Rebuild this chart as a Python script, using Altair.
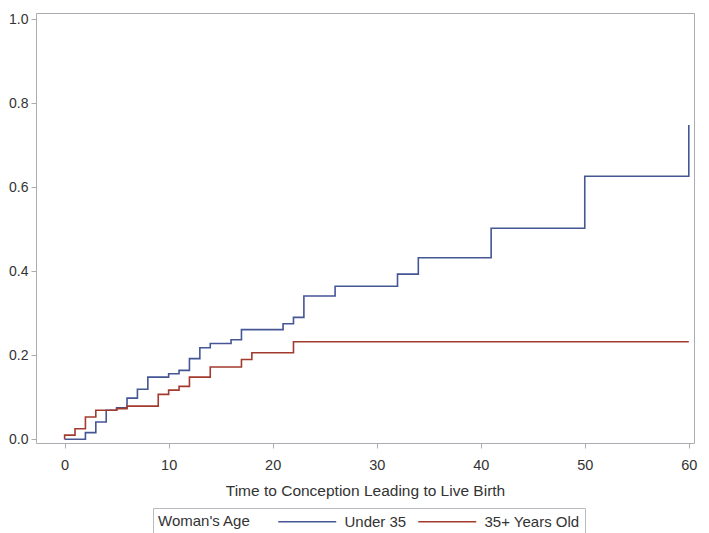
import altair as alt
import pandas as pd

# Cumulative incidence (step functions)
under35_t = [0, 2, 3, 4, 5, 6, 7, 8, 10, 11, 12, 13, 14, 16, 17, 21, 22, 23, 26, 32, 34, 41, 50, 60]
under35_v = [0.0, 0.016, 0.041, 0.069, 0.075, 0.098, 0.119, 0.148, 0.156, 0.164, 0.192, 0.218,
             0.228, 0.237, 0.261, 0.275, 0.290, 0.341, 0.364, 0.393, 0.432, 0.502, 0.626, 0.748]

over35_t = [0, 0, 1, 2, 3, 5, 6, 9, 10, 11, 12, 14, 17, 18, 22, 60]
over35_v = [0.0, 0.010, 0.025, 0.053, 0.069, 0.073, 0.079, 0.107, 0.117, 0.126, 0.148, 0.172,
            0.190, 0.206, 0.232, 0.232]

groups = ["Under 35", "35+ Years Old"]
colors = ["#445694", "#A23A2E"]
x_ticks = [0, 10, 20, 30, 40, 50, 60]
y_ticks = [0.0, 0.2, 0.4, 0.6, 0.8, 1.0]

rows = []
for i, (t, v) in enumerate(zip(under35_t, under35_v)):
    rows.append({"t": t, "v": v, "g": groups[0], "o": i})
for i, (t, v) in enumerate(zip(over35_t, over35_v)):
    rows.append({"t": t, "v": v, "g": groups[1], "o": i})
df = pd.DataFrame(rows)

FONT = "Liberation Sans"
GRAY = "#a9adb2"
TEXT = "#333333"

chart = (
    alt.Chart(df)
    .mark_line(interpolate="step-after", strokeWidth=1.6)
    .encode(
        x=alt.X(
            "t:Q",
            scale=alt.Scale(domain=[-2.75, 60.5], nice=False, zero=False),
            axis=alt.Axis(
                values=x_ticks,
                title="Time to Conception Leading to Live Birth",
                grid=False,
                domain=False,
                tickColor=GRAY,
                tickSize=5,
                labelFontSize=14.5,
                labelPadding=10,
                labelColor=TEXT,
                titleFontSize=15.5,
                titleFontWeight="normal",
                titleColor=TEXT,
                titlePadding=12,
                labelFont=FONT,
                titleFont=FONT,
            ),
        ),
        y=alt.Y(
            "v:Q",
            scale=alt.Scale(domain=[-0.0088, 1.0143], nice=False, zero=False),
            axis=alt.Axis(
                values=y_ticks,
                format=".1f",
                title=None,
                grid=False,
                domain=False,
                tickColor=GRAY,
                tickSize=5,
                labelFontSize=14,
                labelPadding=3,
                labelColor=TEXT,
                labelFont=FONT,
            ),
        ),
        color=alt.Color(
            "g:N",
            scale=alt.Scale(domain=groups, range=colors),
            legend=alt.Legend(
                title="Woman's Age",
                orient="none",
                legendX=117,
                legendY=495,
                direction="horizontal",
                titleOrient="left",
                titleFontSize=15,
                titleFontWeight="normal",
                titleColor=TEXT,
                titleFont=FONT,
                titlePadding=26,
                labelFontSize=15,
                labelColor=TEXT,
                labelFont=FONT,
                labelOffset=50.5,
                columnPadding=8,
                symbolType="M-1,0H7",
                symbolSize=210,
                symbolStrokeWidth=1.6,
                strokeColor="#b8bcc0",
                padding=5,
            ),
        ),
        order="o:Q",
    )
    .properties(
        width=658,
        height=430,
        autosize=alt.AutoSizeParams(type="none"),
        padding={"left": 28, "top": 5, "right": 7, "bottom": 90},
    )
    .configure_view(stroke=GRAY, strokeWidth=1)
)

chart.save("out.html", embed_options={"renderer": "svg", "actions": False})
